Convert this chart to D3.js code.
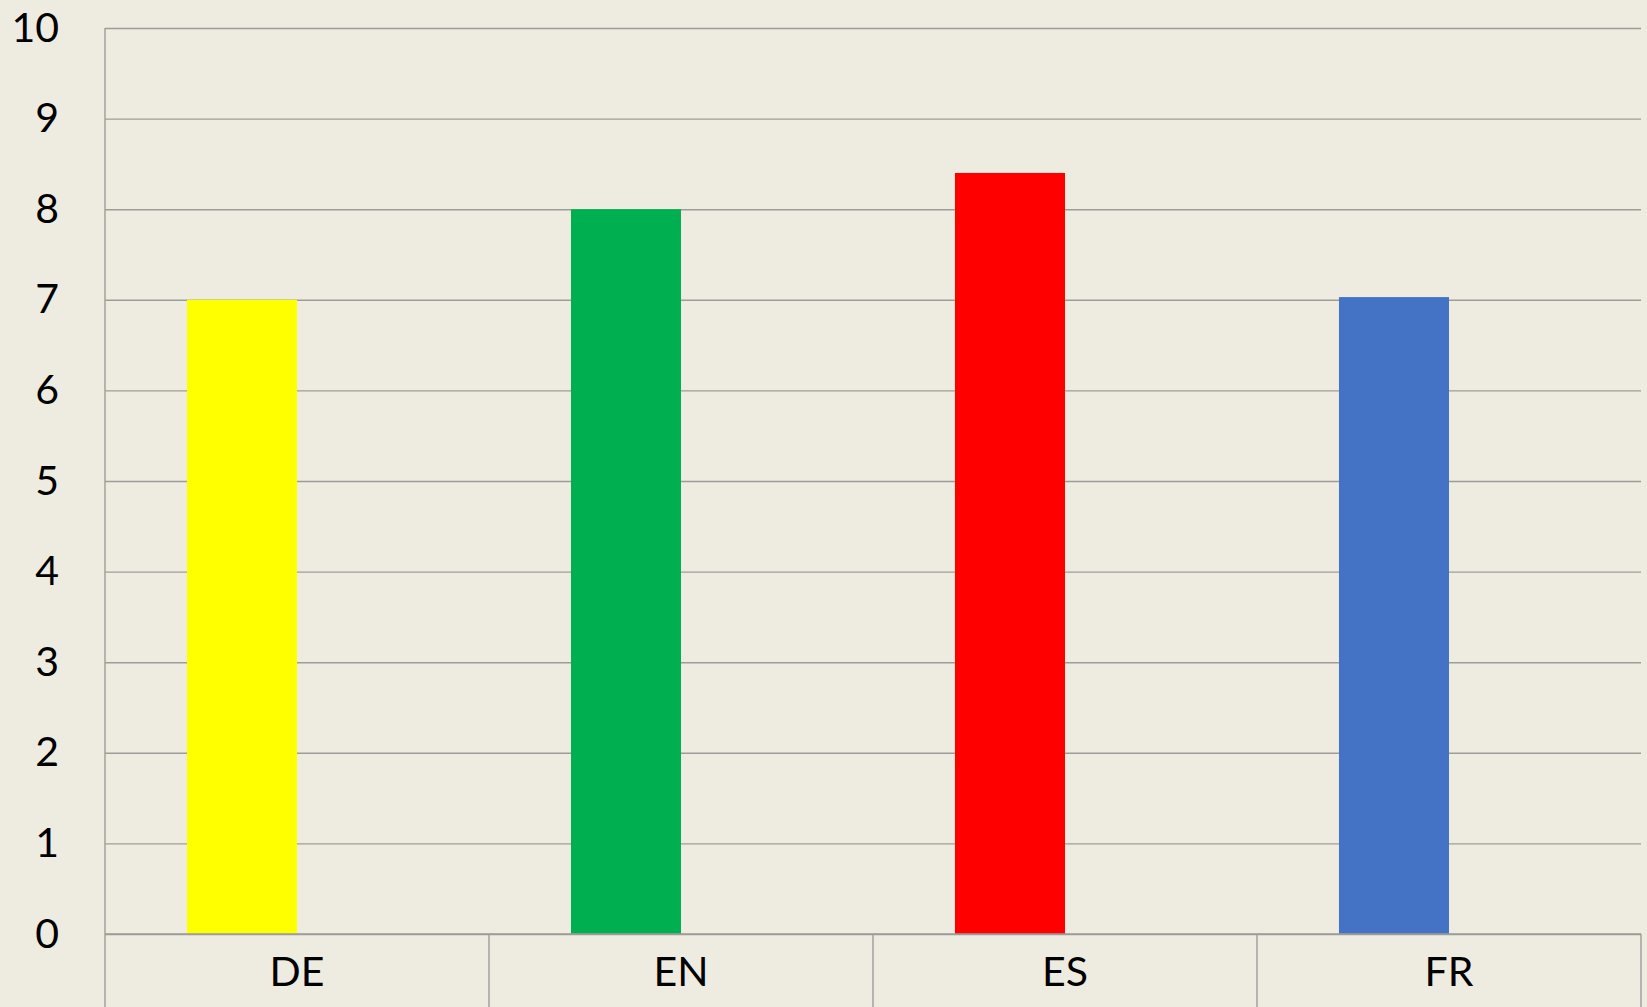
<!DOCTYPE html>
<html>
<head>
<meta charset="utf-8">
<script src="https://cdn.jsdelivr.net/npm/d3@7"></script>
<style>
  html, body { margin: 0; padding: 0; background: #EEECE1; overflow: hidden; }
  svg { display: block; }
  .axis text { font-family: Lato, "Open Sans", sans-serif; font-size: 41px; fill: #000; }
</style>
</head>
<body>
<div id="container"></div>
<script>
// Data
const categories = ['DE', 'EN', 'ES', 'FR'];
const values = [7.0, 8.0, 8.4, 7.03];
const barColors = ['#FFFF00', '#00B050', '#FF0000', '#4472C4'];
const yTicks = [0, 1, 2, 3, 4, 5, 6, 7, 8, 9, 10];

const width = 1647;
const height = 1007;
const plotMargins = { top: 28, bottom: 73, left: 105, right: 6 };
const plotWidth = width - plotMargins.left - plotMargins.right;
const plotHeight = height - plotMargins.top - plotMargins.bottom;
const gridColor = '#9c9c9a';

const svg = d3.select('#container').append('svg')
  .attr('width', width)
  .attr('height', height);

svg.append('rect')
  .attr('width', width)
  .attr('height', height)
  .attr('fill', '#EEECE1');

const plotArea = svg.append('g')
  .attr('class', 'plot')
  .attr('transform', `translate(${plotMargins.left}, ${plotMargins.top})`);

const xScale = d3.scaleBand()
  .domain(categories)
  .range([0, plotWidth])
  .paddingInner(0)
  .paddingOuter(0);

// clustered slots like a 2-series column chart, only the first one is used
const slotScale = d3.scaleBand()
  .domain([0, 1])
  .range([0, xScale.bandwidth()])
  .paddingInner(0)
  .paddingOuter(0.745);

const yScale = d3.scaleLinear()
  .domain([0, 10])
  .range([plotHeight, 0]);

// gridlines + y labels
const yAxis = d3.axisLeft(yScale)
  .tickValues(yTicks)
  .tickFormat(d3.format('d'))
  .tickSizeInner(-plotWidth)
  .tickSizeOuter(0)
  .tickPadding(46);

const yAxisG = plotArea.append('g')
  .classed('y', true)
  .classed('axis', true)
  .call(yAxis);
yAxisG.select('.domain').remove();
yAxisG.selectAll('line')
  .attr('stroke', gridColor)
  .attr('stroke-width', 1.4);

// bars
plotArea.selectAll('.bar')
  .data(categories)
  .enter().append('rect')
    .attr('class', 'bar')
    .attr('x', (d) => xScale(d) + slotScale(0))
    .attr('width', slotScale.bandwidth())
    .attr('y', (d, i) => yScale(values[i]))
    .attr('height', (d, i) => yScale(0) - yScale(values[i]))
    .style('fill', (d, i) => barColors[i]);

// category table underneath
const xAxis = d3.axisBottom(xScale)
  .tickSizeInner(0)
  .tickSizeOuter(0)
  .tickPadding(23);

const xAxisG = plotArea.append('g')
  .classed('x', true)
  .classed('axis', true)
  .attr('transform', `translate(0, ${plotHeight})`)
  .call(xAxis);
xAxisG.select('.domain').remove();

const boundaries = categories.map((c) => xScale(c)).concat([plotWidth]);

plotArea.append('line')
  .attr('x1', 0).attr('x2', plotWidth)
  .attr('y1', plotHeight).attr('y2', plotHeight)
  .attr('stroke', gridColor)
  .attr('stroke-width', 1.6);

plotArea.selectAll('.sep')
  .data(boundaries)
  .enter().append('line')
    .attr('class', 'sep')
    .attr('x1', (d) => d).attr('x2', (d) => d)
    .attr('y1', (d, i) => i === 0 ? 0 : plotHeight)
    .attr('y2', plotHeight + plotMargins.bottom)
    .attr('stroke', gridColor)
    .attr('stroke-width', 1.4);
</script>
</body>
</html>
